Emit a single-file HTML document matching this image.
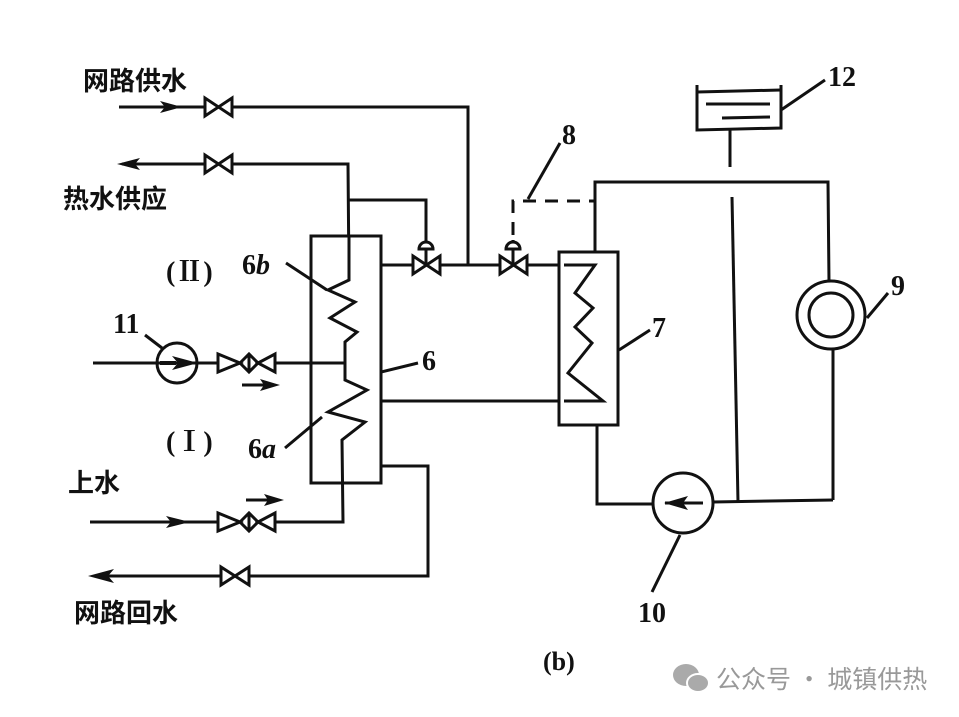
<!DOCTYPE html>
<html><head><meta charset="utf-8"><style>
html,body{margin:0;padding:0;background:#fff;}
svg{display:block}
.t{font-family:"Liberation Serif","Noto Serif CJK SC",serif;font-weight:bold;fill:#111}
.c{font-family:"Liberation Sans","Noto Sans CJK SC",sans-serif;font-weight:bold;fill:#111}
</style></head><body>
<svg width="959" height="717" viewBox="0 0 959 717" xmlns="http://www.w3.org/2000/svg">
<g stroke="#111" stroke-width="3" fill="none" stroke-linejoin="miter">
<polyline points="119,107 468,107 468,265"/>
<polyline points="122,164 348,164 349,280"/>
<polyline points="349,200 426,200 426,242"/>
<rect x="311" y="236" width="70" height="247" fill="#fff"/>
<polyline points="349,236 349,280 328,290 355,302 330,318 357,332 345,342 345,363 345,380 367,390 328,412 365,422 342,440 343,522 274,522"/>
<line x1="93" y1="363" x2="345" y2="363"/>
<line x1="381" y1="265" x2="559" y2="265"/>
<line x1="381" y1="401" x2="559" y2="401"/>
<polyline points="381,466 428,466 428,576 95,576"/>
<line x1="90" y1="522" x2="218" y2="522"/>
<rect x="559" y="252" width="59" height="173" fill="#fff"/>
<polyline points="564,265 595,265 575,293 593,308 575,327 592,343 568,373 603,401 564,401"/>
<polyline points="595,252 595,182 828,182 829,282"/>
<line x1="833" y1="349" x2="833" y2="500"/>
<polyline points="597,425 597,504 653,504"/>
<line x1="713" y1="502" x2="833" y2="500"/>
<line x1="732" y1="197" x2="738" y2="502"/>
<line x1="730" y1="130" x2="730" y2="167"/>
<polyline points="697,85 697,130 781,128 781,85"/>
<line x1="697" y1="92" x2="781" y2="90"/>
<line x1="706" y1="104" x2="770" y2="104"/>
<line x1="722" y1="118" x2="770" y2="117"/>
<circle cx="831" cy="315" r="34"/>
<circle cx="831" cy="315" r="22"/>
<circle cx="683" cy="503" r="30"/>
<circle cx="177" cy="363" r="20"/>
<polyline points="513,235 513,201 595,201" stroke-dasharray="13,9"/>
<line x1="528" y1="199" x2="560" y2="143"/>
<line x1="781" y1="110" x2="825" y2="80"/>
<line x1="867" y1="318" x2="888" y2="293"/>
<line x1="619" y1="350" x2="650" y2="330"/>
<line x1="680" y1="535" x2="652" y2="592"/>
<line x1="145" y1="335" x2="162" y2="348"/>
<line x1="286" y1="263" x2="327" y2="290"/>
<line x1="381" y1="372" x2="418" y2="363"/>
<line x1="285" y1="448" x2="322" y2="417"/>
<line x1="242" y1="385" x2="265" y2="385"/>
<line x1="246" y1="500" x2="268" y2="500"/>
<line x1="665" y1="503" x2="703" y2="503"/>
</g>
<!-- arrowheads -->
<g fill="#111">
<polygon points="182,107 160,101 165,107 160,113"/>
<polygon points="117,164 140,158 135,164 140,170"/>
<polygon points="88,576 114,569 108,576 114,583"/>
<polygon points="190,522 166,516 171,522 166,528"/>
<polygon points="280,385 260,379 264,385 260,391"/>
<polygon points="284,500 264,494 268,500 264,506"/>
<polygon points="198,363 172,356 178,363 172,370"/>
<rect x="160" y="361" width="16" height="4"/>
<polygon points="664,503 688,496 683,503 688,510"/>
</g>
<g stroke="#111" stroke-width="3" fill="#fff">
<path d="M205,98 L205,116 L232,98 L232,116Z"/>
<path d="M205,155 L205,173 L232,155 L232,173Z"/>
<path d="M221,567 L221,585 L249,567 L249,585Z"/>
<path d="M413,256 L413,274 L440,256 L440,274Z"/>
<path d="M500,256 L500,274 L527,256 L527,274Z"/>
<path d="M218,354 L218,372 L240,363Z M275,354 L275,372 L258,363Z M240,363 L249,354 L258,363 L249,372Z"/>
<path d="M218,513 L218,531 L240,522Z M275,513 L275,531 L258,522Z M240,522 L249,513 L258,522 L249,531Z"/>
<line x1="249" y1="356" x2="249" y2="370"/>
<line x1="249" y1="515" x2="249" y2="529"/>
<line x1="426" y1="242" x2="426" y2="265"/>
<line x1="513" y1="240" x2="513" y2="265"/>
<path d="M419,249 A7,7 0 0 1 433,249 Z"/>
<path d="M506,249 A7,7 0 0 1 520,249 Z"/>
</g>
<text class="c" x="83" y="90" font-size="26">网路供水</text>
<text class="c" x="63" y="208" font-size="26">热水供应</text>
<text class="c" x="68" y="492" font-size="26">上水</text>
<text class="c" x="74" y="622" font-size="26">网路回水</text>
<text class="t" x="166" y="281" font-size="28">(Ⅱ)</text>
<text class="t" x="166" y="451" font-size="28">(Ⅰ)</text>
<text class="t" x="242" y="274" font-size="28">6<tspan font-style="italic">b</tspan></text>
<text class="t" x="248" y="458" font-size="28">6<tspan font-style="italic">a</tspan></text>
<text class="t" x="422" y="370" font-size="28">6</text>
<text class="t" x="113" y="333" font-size="28">11</text>
<text class="t" x="562" y="144" font-size="28">8</text>
<text class="t" x="828" y="86" font-size="28">12</text>
<text class="t" x="652" y="337" font-size="28">7</text>
<text class="t" x="891" y="295" font-size="28">9</text>
<text class="t" x="638" y="622" font-size="28">10</text>
<text class="t" x="543" y="670" font-size="26">(b)</text>
<g fill="#aaa">
<ellipse cx="686" cy="675" rx="13" ry="11"/>
<ellipse cx="698" cy="683" rx="11" ry="9" stroke="#fff" stroke-width="2"/>
</g>
<text x="716" y="688" font-size="25" fill="#999" font-family="'Noto Sans CJK SC',sans-serif">公众号 · 城镇供热</text>
</svg>
</body></html>
